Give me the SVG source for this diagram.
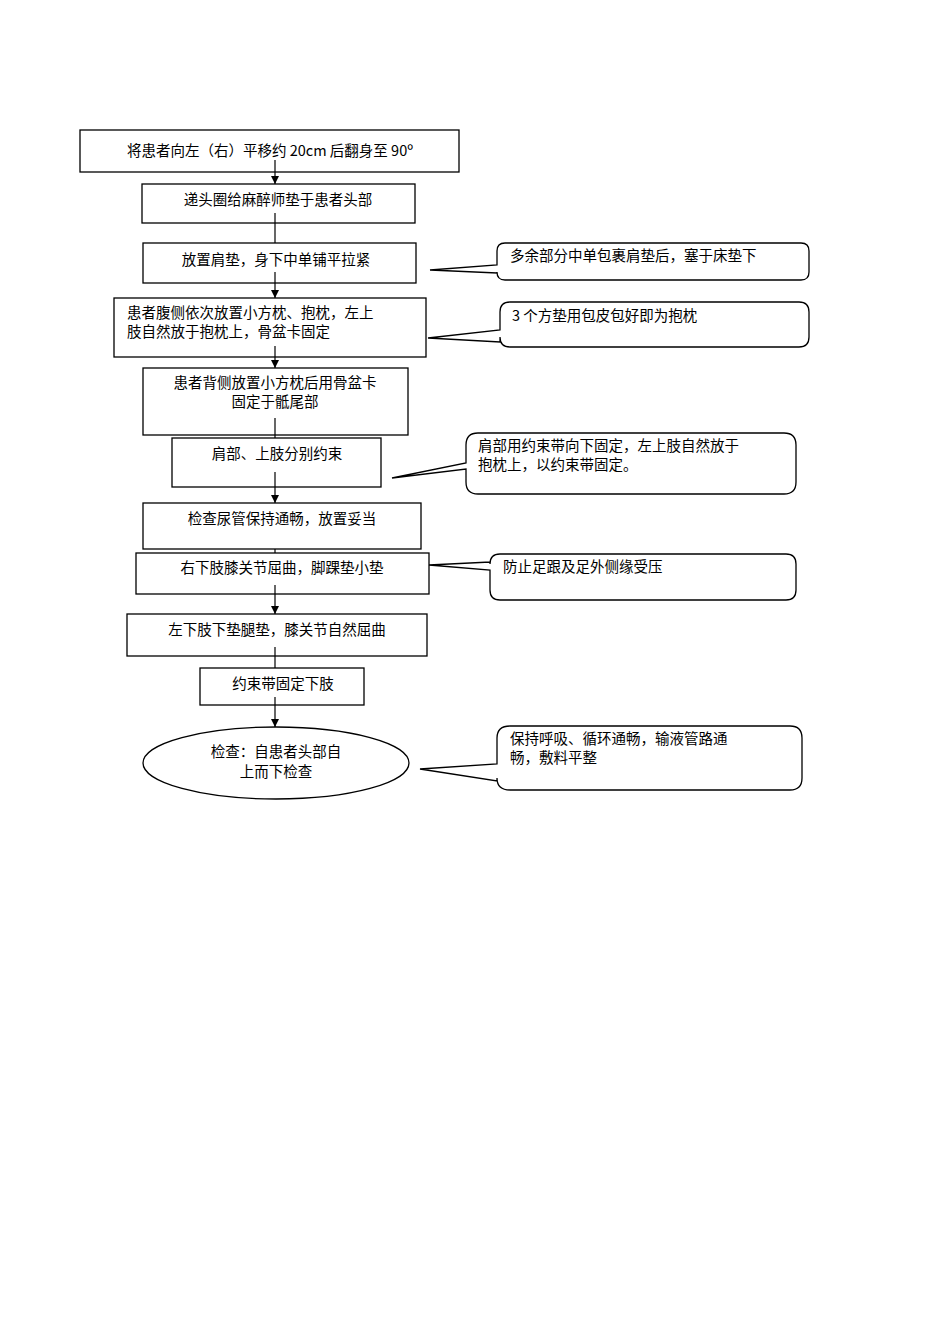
<svg xmlns="http://www.w3.org/2000/svg" width="950" height="1344" viewBox="0 0 950 1344">
<style>
.b{fill:#fff;stroke:#000;stroke-width:1.3}
.c{fill:#fff;stroke:#000;stroke-width:1.3}
.l{stroke:#000;stroke-width:1.2;fill:none}
text{font-family:"Noto Sans CJK SC","Liberation Serif",serif;font-size:14.5px;fill:#000}
.m{text-anchor:middle}
</style>
<defs><marker id="a" markerWidth="10" markerHeight="10" refX="8" refY="4" orient="auto" markerUnits="userSpaceOnUse"><path d="M0,0 L8,4 L0,8 Z" fill="#000"/></marker></defs>
<rect width="950" height="1344" fill="#fff"/>
<g id="connectors">
<line class="l" x1="275" y1="160" x2="275" y2="184" marker-end="url(#a)"/>
<line class="l" x1="275" y1="213" x2="275" y2="243"/>
<line class="l" x1="275" y1="272" x2="275" y2="298" marker-end="url(#a)"/>
<line class="l" x1="275" y1="346" x2="275" y2="368" marker-end="url(#a)"/>
<line class="l" x1="275" y1="418" x2="275" y2="438"/>
<line class="l" x1="275" y1="472" x2="275" y2="503" marker-end="url(#a)"/>
<line class="l" x1="275" y1="549" x2="275" y2="553"/>
<line class="l" x1="275" y1="585" x2="275" y2="614" marker-end="url(#a)"/>
<line class="l" x1="275" y1="647" x2="275" y2="668"/>
<line class="l" x1="275" y1="697" x2="275" y2="727" marker-end="url(#a)"/>
</g>
<g id="n1"><rect class="b" x="80" y="130" width="379" height="42"/><line class="l" x1="275" y1="160" x2="275" y2="172"/><text class="m" x="270" y="156">将患者向左（右）平移约 20cm 后翻身至 90º</text></g>
<g id="n2"><rect class="b" x="142" y="184" width="273" height="39"/><line class="l" x1="275" y1="213" x2="275" y2="223"/><text class="m" x="278" y="205">递头圈给麻醉师垫于患者头部</text></g>
<g id="n3"><rect class="b" x="143" y="243" width="273" height="40"/><line class="l" x1="275" y1="272" x2="275" y2="283"/><text class="m" x="276" y="265">放置肩垫，身下中单铺平拉紧</text></g>
<g id="c1"><path class="c" d="M505,243 H801 Q809,243 809,251 V272 Q809,280 801,280 H505 Q497,280 497,272 V273 L430,270 L497,265 V251 Q497,243 505,243 Z"/><text x="510" y="261">多余部分中单包裹肩垫后，塞于床垫下</text></g>
<g id="n4"><rect class="b" x="114" y="298" width="312" height="59"/><line class="l" x1="275" y1="346" x2="275" y2="357"/><text x="127" y="318">患者腹侧依次放置小方枕、抱枕，左上</text><text x="127" y="337">肢自然放于抱枕上，骨盆卡固定</text></g>
<g id="c2"><path class="c" d="M510,302 H799 Q809,302 809,312 V337 Q809,347 799,347 H510 Q500,347 500,337 V342 L428,338 L500,330 V312 Q500,302 510,302 Z"/><text x="512" y="321">3 个方垫用包皮包好即为抱枕</text></g>
<g id="n5"><rect class="b" x="143" y="368" width="265" height="67"/><line class="l" x1="275" y1="418" x2="275" y2="435"/><text class="m" x="275" y="388">患者背侧放置小方枕后用骨盆卡</text><text class="m" x="275" y="407">固定于骶尾部</text></g>
<g id="n6"><rect class="b" x="172" y="438" width="209" height="49"/><line class="l" x1="275" y1="472" x2="275" y2="487"/><text class="m" x="277" y="459">肩部、上肢分别约束</text></g>
<g id="c3"><path class="c" d="M478,433 H784 Q796,433 796,445 V482 Q796,494 784,494 H478 Q466,494 466,482 V469 L392,478 L466,463 V445 Q466,433 478,433 Z"/><text x="478" y="451">肩部用约束带向下固定，左上肢自然放于</text><text x="478" y="470">抱枕上，以约束带固定。</text></g>
<g id="n7"><rect class="b" x="143" y="503" width="278" height="46"/><text class="m" x="282" y="524">检查尿管保持通畅，放置妥当</text></g>
<g id="n8"><rect class="b" x="136" y="553" width="293" height="41"/><line class="l" x1="275" y1="585" x2="275" y2="594"/><text class="m" x="282" y="573">右下肢膝关节屈曲，脚踝垫小垫</text></g>
<g id="c4"><path class="c" d="M500,554 H786 Q796,554 796,564 V590 Q796,600 786,600 H500 Q490,600 490,590 V570 L429,565 L490,562 V564 Q490,554 500,554 Z"/><text x="503" y="572">防止足跟及足外侧缘受压</text></g>
<g id="n9"><rect class="b" x="127" y="614" width="300" height="42"/><line class="l" x1="275" y1="647" x2="275" y2="656"/><text class="m" x="277" y="635">左下肢下垫腿垫，膝关节自然屈曲</text></g>
<g id="n10"><rect class="b" x="200" y="668" width="164" height="37"/><line class="l" x1="275" y1="697" x2="275" y2="705"/><text class="m" x="283" y="689">约束带固定下肢</text></g>
<g id="n11"><ellipse class="b" cx="276" cy="763" rx="133" ry="36"/><text class="m" x="276" y="757">检查：自患者头部自</text><text class="m" x="276" y="777">上而下检查</text></g>
<g id="c5"><path class="c" d="M510,726 H790 Q802,726 802,738 V778 Q802,790 790,790 H510 Q497,790 497,778 V781 L420,769 L497,764 V738 Q497,726 510,726 Z"/><text x="510" y="744">保持呼吸、循环通畅，输液管路通</text><text x="510" y="763">畅，敷料平整</text></g>
</svg>
